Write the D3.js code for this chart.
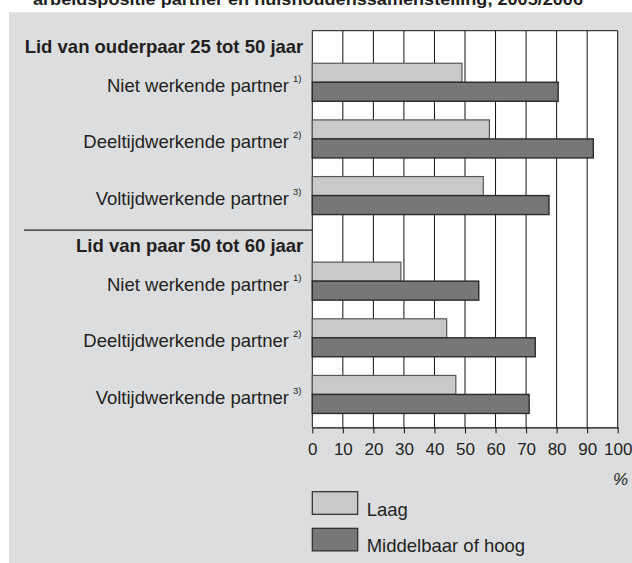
<!DOCTYPE html>
<html>
<head>
<meta charset="utf-8">
<script src="https://cdn.jsdelivr.net/npm/d3@7"></script>
<style>
  html, body { margin: 0; padding: 0; background: #ffffff; }
  svg { display: block; font-family: "Liberation Sans", Arial, sans-serif; }
</style>
</head>
<body>
<svg id="chart" width="632" height="563"></svg>
<script>
// ---- data ----
const titleText = "arbeidspositie partner en huishoudenssamenstelling, 2005/2006";
const sections = ["Lid van ouderpaar 25 tot 50 jaar", "Lid van paar 50 tot 60 jaar"];
const categories = ["Niet werkende partner", "Deeltijdwerkende partner", "Voltijdwerkende partner"];
const footnotes = ["1)", "2)", "3)"];
const seriesNames = ["Laag", "Middelbaar of hoog"];
const laag = [[49, 58, 56], [29, 44, 47]];
const middelbaarHoog = [[80.5, 92, 77.5], [54.5, 73, 71]];
const xTicks = [0, 10, 20, 30, 40, 50, 60, 70, 80, 90, 100];
const unitLabel = "%";

// ---- layout ----
const W = 632, H = 563;
const plot = { left: 312.3, right: 617.7, top: 30.7, bottom: 427.3 };
const colors = { panel: "#dcdddf", light: "#c8c9cb", dark: "#767779", lightStroke: "#555", darkStroke: "#2a2a2a", text: "#231f20" };

const svg = d3.select("#chart");

// title (clipped at top)
svg.append("text")
  .attr("x", 33).attr("y", 4.5)
  .attr("font-size", 17).attr("font-weight", "bold").attr("fill", colors.text)
  .attr("textLength", 550).attr("lengthAdjust", "spacingAndGlyphs")
  .text(titleText);

// panel background
svg.append("rect").attr("x", 9).attr("y", 12.3).attr("width", W - 9).attr("height", H - 12.3).attr("fill", colors.panel);

const x = d3.scaleLinear().domain([0, 100]).range([plot.left, plot.right]);
const y = d3.scaleLinear().domain([0, 7]).range([plot.top, plot.bottom]);
const sectionStart = [0, 3.51];
const firstRow = 0.91;
const barH = 19;

// plot background
svg.append("rect").attr("x", plot.left).attr("y", plot.top)
  .attr("width", plot.right - plot.left).attr("height", plot.bottom - plot.top).attr("fill", "#fff");

// gridlines
svg.append("g").selectAll("line").data(xTicks).join("line")
  .attr("x1", d => x(d)).attr("x2", d => x(d))
  .attr("y1", plot.top).attr("y2", plot.bottom)
  .attr("stroke", "#111").attr("stroke-width", 1);
svg.append("line").attr("x1", plot.left).attr("x2", plot.right).attr("y1", plot.top).attr("y2", plot.top)
  .attr("stroke", "#111");

// rows
const rows = [];
sections.forEach((s, si) => {
  categories.forEach((c, ci) => {
    rows.push({ si, ci, cat: c, note: footnotes[ci], center: y(sectionStart[si] + firstRow + ci), laag: laag[si][ci], hoog: middelbaarHoog[si][ci] });
  });
});

// section headers
svg.append("g").selectAll("text").data(sections).join("text")
  .attr("x", 303.3).attr("y", (d, i) => y(sectionStart[i] + 0.395))
  .attr("text-anchor", "end").attr("font-size", 18.5).attr("font-weight", "bold").attr("fill", colors.text)
  .text(d => d);

// separator line
svg.append("line").attr("x1", 24).attr("x2", plot.left)
  .attr("y1", y(sectionStart[1]) + 0.5).attr("y2", y(sectionStart[1]) + 0.5)
  .attr("stroke", colors.text).attr("stroke-width", 1.2);

// category labels
const lab = svg.append("g");
lab.selectAll("text.cat").data(rows).join("text").attr("class", "cat")
  .attr("x", 289).attr("y", d => d.center + 9.4)
  .attr("text-anchor", "end").attr("font-size", 18.5).attr("fill", colors.text)
  .text(d => d.cat);
lab.selectAll("text.note").data(rows).join("text").attr("class", "note")
  .attr("x", 293).attr("y", d => d.center - 0.5)
  .attr("font-size", 9.5).attr("fill", colors.text)
  .text(d => d.note);

// bars
const bars = svg.append("g");
bars.selectAll("rect.l").data(rows).join("rect").attr("class", "l")
  .attr("x", x(0)).attr("y", d => d.center - barH)
  .attr("width", d => x(d.laag) - x(0)).attr("height", barH)
  .attr("fill", colors.light).attr("stroke", colors.lightStroke).attr("stroke-width", 1.2);
bars.selectAll("rect.d").data(rows).join("rect").attr("class", "d")
  .attr("x", x(0)).attr("y", d => d.center)
  .attr("width", d => x(d.hoog) - x(0)).attr("height", barH)
  .attr("fill", colors.dark).attr("stroke", colors.darkStroke).attr("stroke-width", 1.4);

// x axis
const axis = svg.append("g").attr("transform", `translate(0,${plot.bottom})`)
  .call(d3.axisBottom(x).tickValues(xTicks).tickSize(6).tickSizeOuter(0).tickPadding(4));
axis.select(".domain").attr("stroke", "#111").attr("stroke-width", 1.2);
axis.selectAll(".tick line").attr("stroke", "#111");
axis.selectAll(".tick text").attr("font-size", 17).attr("fill", colors.text)
  .attr("font-family", "'Liberation Sans', Arial, sans-serif").attr("dy", null).attr("y", 27.7);

svg.append("text").attr("x", 628).attr("y", 485).attr("text-anchor", "end")
  .attr("font-size", 17).attr("font-style", "italic").attr("fill", colors.text).text(unitLabel);

// legend
const leg = svg.append("g");
const legY = [491.7, 528.3];
leg.selectAll("rect").data(seriesNames).join("rect")
  .attr("x", 312.3).attr("y", (d, i) => legY[i]).attr("width", 45.4).attr("height", 22.6)
  .attr("fill", (d, i) => i === 0 ? colors.light : colors.dark)
  .attr("stroke", colors.darkStroke).attr("stroke-width", 1.2);
leg.selectAll("text").data(seriesNames).join("text")
  .attr("x", 366.7).attr("y", (d, i) => legY[i] + 24)
  .attr("font-size", 18.5).attr("fill", colors.text).text(d => d);
</script>
</body>
</html>
